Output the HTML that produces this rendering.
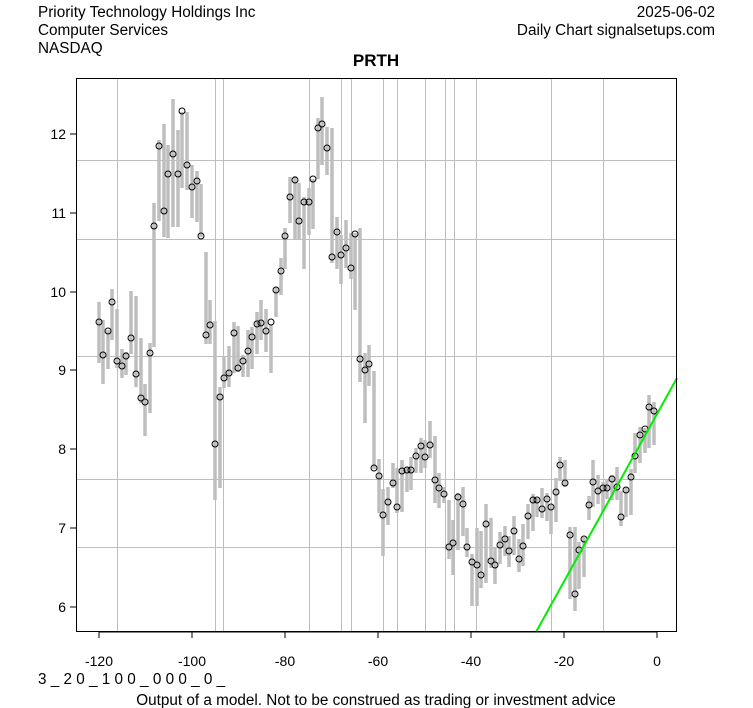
<!DOCTYPE html>
<html><head><meta charset="utf-8"><style>
html,body{margin:0;padding:0;background:#fff;}
svg{display:block;font-family:"Liberation Sans",Arial,sans-serif;}
</style></head><body>
<svg width="753" height="708" viewBox="0 0 753 708" xmlns="http://www.w3.org/2000/svg">
<rect width="753" height="708" fill="#fff"/>
<g font-size="15.3" fill="#000">
<text x="38" y="17">Priority Technology Holdings Inc</text>
<text x="38" y="35">Computer Services</text>
<text x="38" y="53">NASDAQ</text>
<text x="715" y="17" text-anchor="end">2025-06-02</text>
<text x="715" y="35" text-anchor="end">Daily Chart signalsetups.com</text>
<text x="376" y="66" text-anchor="middle" font-weight="bold" font-size="17">PRTH</text>
<text x="38" y="684">3 _ 2 0 _ 1 0 0 _ 0 0 0 _ 0 _</text>
<text x="376" y="705" text-anchor="middle">Output of a model. Not to be construed as trading or investment advice</text>
</g>
<g stroke="#bebebe" stroke-width="1">
<line x1="76" x2="677" y1="160.5" y2="160.5"/><line x1="76" x2="677" y1="239.5" y2="239.5"/>
<line x1="76" x2="677" y1="356.5" y2="356.5"/><line x1="76" x2="677" y1="479.5" y2="479.5"/>
<line x1="76" x2="677" y1="547.5" y2="547.5"/>
<line x1="117.5" x2="117.5" y1="78" y2="632"/><line x1="215.5" x2="215.5" y1="78" y2="632"/>
<line x1="223.5" x2="223.5" y1="78" y2="632"/><line x1="309.5" x2="309.5" y1="78" y2="632"/>
<line x1="341.5" x2="341.5" y1="78" y2="632"/><line x1="351.5" x2="351.5" y1="78" y2="632"/>
<line x1="383.5" x2="383.5" y1="78" y2="632"/><line x1="397.5" x2="397.5" y1="78" y2="632"/>
<line x1="425.5" x2="425.5" y1="78" y2="632"/><line x1="445.5" x2="445.5" y1="78" y2="632"/>
<line x1="454.5" x2="454.5" y1="78" y2="632"/><line x1="476.5" x2="476.5" y1="78" y2="632"/>
<line x1="551.5" x2="551.5" y1="78" y2="632"/><line x1="603.5" x2="603.5" y1="78" y2="632"/>
</g>
<g id="bars" stroke="#bebebe" stroke-width="3.5" fill="none"></g>
<g id="pts" stroke="#000" stroke-width="1" fill="none"></g>
<line x1="536" y1="632" x2="677" y2="378" stroke="#00ee00" stroke-width="2"/>
<rect x="76.5" y="78.5" width="600" height="553" fill="none" stroke="#000"/>
<g stroke="#000">
<line x1="99" x2="657" y1="632" y2="632"/>
<line x1="99" x2="99" y1="632" y2="638"/><line x1="192" x2="192" y1="632" y2="638"/>
<line x1="285" x2="285" y1="632" y2="638"/><line x1="378" x2="378" y1="632" y2="638"/>
<line x1="471" x2="471" y1="632" y2="638"/><line x1="564" x2="564" y1="632" y2="638"/>
<line x1="657" x2="657" y1="632" y2="638"/>
<line x1="70" x2="76" y1="134" y2="134"/><line x1="70" x2="76" y1="213" y2="213"/>
<line x1="70" x2="76" y1="292" y2="292"/><line x1="70" x2="76" y1="370" y2="370"/>
<line x1="70" x2="76" y1="449" y2="449"/><line x1="70" x2="76" y1="528" y2="528"/>
<line x1="70" x2="76" y1="607" y2="607"/>
</g>
<g font-size="14" fill="#000" text-anchor="middle">
<text x="99" y="666">-120</text><text x="192" y="666">-100</text><text x="285" y="666">-80</text>
<text x="378" y="666">-60</text><text x="471" y="666">-40</text><text x="564" y="666">-20</text><text x="657" y="666">0</text>
</g>
<g font-size="14" fill="#000" text-anchor="end">
<text x="66" y="139">12</text><text x="66" y="218">11</text><text x="66" y="297">10</text>
<text x="66" y="375">9</text><text x="66" y="454">8</text><text x="66" y="533">7</text><text x="66" y="612">6</text>
</g>
<script>
var d=[[99,302,363,322],[103,320,384,355],[108,330,369,331],[112,289,340,302],[117,309,368,361],[122,349,378,366],[126,352,375,356],[131,291,354,338],[136,296,387,374],[141,338,403,398],[145,384,436,402],[150,343,413,353],[154,203,347,226],[159,140,221,146],[164,124,237,211],[168,145,238,174],[173,99,227,154],[178,130,227,174],[182,112,188,111],[187,112,190,165],[192,165,218,187],[197,171,222,181],[201,184,237,236],[206,252,344,335],[210,300,344,325],[215,321,500,444],[220,387,488,397],[224,357,388,378],[229,346,387,373],[234,322,373,333],[238,326,372,368],[243,355,377,361],[248,330,377,351],[252,327,369,337],[257,312,354,324],[261,300,340,323],[266,309,352,331],[271,325,373,322],[276,287,317,290],[281,258,295,271],[285,228,269,236],[290,177,223,197],[295,176,239,180],[299,183,239,221],[304,197,269,202],[309,188,235,202],[313,179,229,179],[318,118,179,128],[322,97,165,124],[327,127,175,148],[332,128,263,257],[337,217,269,232],[341,235,284,255],[346,220,268,248],[351,233,279,268],[355,233,310,234],[360,228,382,359],[365,353,423,370],[369,345,386,364],[374,371,469,468],[379,459,513,476],[383,489,556,515],[388,487,525,502],[393,463,488,483],[397,468,513,507],[402,460,512,471],[407,467,492,470],[411,457,490,470],[416,448,473,456],[421,438,473,446],[425,440,468,457],[430,421,458,445],[435,436,503,480],[439,473,508,488],[444,487,503,494],[449,500,559,547],[453,520,575,543],[458,493,550,497],[463,487,536,504],[467,528,557,547],[472,554,606,562],[477,528,606,565],[481,531,588,575],[486,504,583,524],[491,518,568,561],[495,548,584,565],[500,532,564,545],[505,526,556,539],[509,536,567,551],[514,516,555,531],[519,539,572,559],[523,524,566,546],[528,504,539,516],[533,494,531,500],[537,498,517,500],[542,488,518,509],[547,493,521,499],[551,505,534,507],[556,478,522,492],[560,457,481,465],[565,460,487,483],[570,527,599,535],[575,527,611,594],[579,542,589,550],[584,537,577,539],[589,496,520,505],[593,460,507,482],[598,475,504,491],[603,482,512,488],[607,479,499,488],[612,475,500,479],[617,467,500,487],[621,491,526,517],[626,487,517,490],[631,469,515,477],[635,433,473,456],[640,427,463,435],[645,428,453,429],[649,395,448,407],[654,402,445,411]];
var ns="http://www.w3.org/2000/svg",b=document.getElementById("bars"),p=document.getElementById("pts");
d.forEach(function(r){var l=document.createElementNS(ns,"line");l.setAttribute("x1",r[0]);l.setAttribute("x2",r[0]);l.setAttribute("y1",r[1]);l.setAttribute("y2",r[2]);b.appendChild(l);
var c=document.createElementNS(ns,"circle");c.setAttribute("cx",r[0]);c.setAttribute("cy",r[3]);c.setAttribute("r",3);p.appendChild(c);});
</script>
</svg>
</body></html>
